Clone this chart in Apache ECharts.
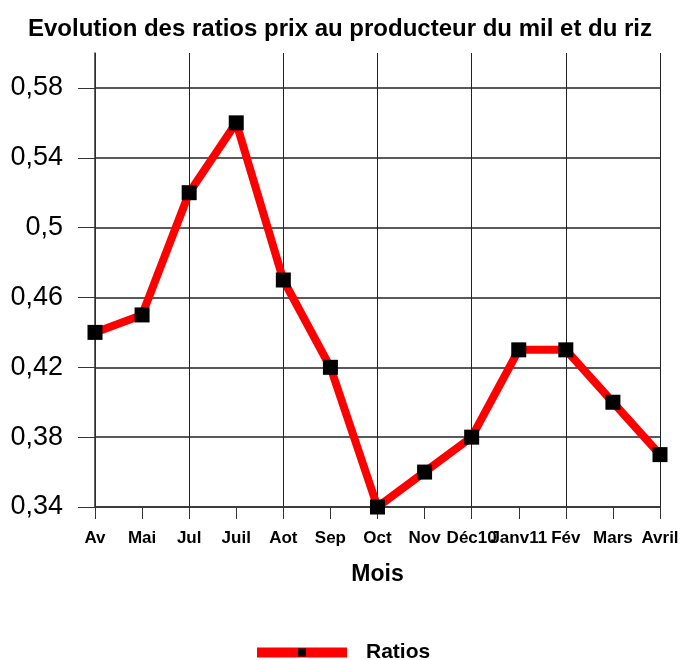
<!DOCTYPE html>
<html><head><meta charset="utf-8">
<script src="https://cdn.jsdelivr.net/npm/echarts@6/dist/echarts.min.js"></script>
<style>html,body{margin:0;padding:0;background:#fff}#c{width:680px;height:660px}</style>
</head><body><div id="c"></div>
<script>
const categories = ['Av','Mai','Jul','Juil','Aot','Sep','Oct','Nov','Déc10','Janv11','Fév','Mars','Avril'];
const ratios = [0.44,0.45,0.52,0.56,0.47,0.42,0.34,0.36,0.38,0.43,0.43,0.40,0.37];
const yTicks = [0.34,0.38,0.42,0.46,0.50,0.54,0.58];

const chart = echarts.init(document.getElementById('c'));
const F = 'Liberation Sans, Arial, sans-serif';
chart.setOption({
  animation: false,
  title: {text: 'Evolution des ratios prix au producteur du mil et du riz', left: 'center', top: 12,
    textStyle: {fontFamily: F, fontWeight: 'bold', fontSize: 24, color: '#000'}},
  legend: {top: 637, left: 247, itemWidth: 90, itemHeight: 10, itemGap: 10, padding: 5,
    lineStyle: {width: 10},
    textStyle: {fontFamily: F, fontWeight: 'bold', fontSize: 21, color: '#000', padding: [0,0,0,14]},
    data: [{name: 'Ratios'}]},
  grid: {left: 95, right: 20, top: 53, bottom: 153, outerBoundsMode: 'none', containLabel: false},
  xAxis: {type: 'category', data: categories, boundaryGap: false, name: 'Mois', nameLocation: 'middle', nameGap: 56,
    nameTextStyle: {fontFamily: F, fontWeight: 'bold', fontSize: 23, color: '#000'},
    axisLine: {lineStyle: {color: '#333', width: 1.5}},
    axisTick: {show: true, interval: 0, length: 12, lineStyle: {color: '#333'}},
    axisLabel: {interval: 0, margin: 23, fontFamily: F, fontWeight: 'bold', fontSize: 17, color: '#000', hideOverlap: false},
    splitLine: {show: true, interval: 1, lineStyle: {color: '#222', width: 1}}},
  yAxis: {type: 'value', min: 0.34, max: 0.60, interval: 0.02,
    axisLine: {show: true, lineStyle: {color: '#333', width: 1.5}},
    axisTick: {show: true, length: 17, customValues: yTicks, lineStyle: {color: '#333'}},
    axisLabel: {customValues: yTicks, margin: 32, fontFamily: F, fontSize: 27, color: '#000',
      formatter: v => String(Math.round(v*100)/100).replace('.', ',')},
    splitLine: {show: true, lineStyle: {color: '#222', width: 1.5}}},
  series: [{name: 'Ratios', type: 'line', data: ratios, symbol: 'rect', symbolSize: 15,
    lineStyle: {color: '#ff0000', width: 8}, itemStyle: {color: '#000'}}]
});
</script></body></html>
